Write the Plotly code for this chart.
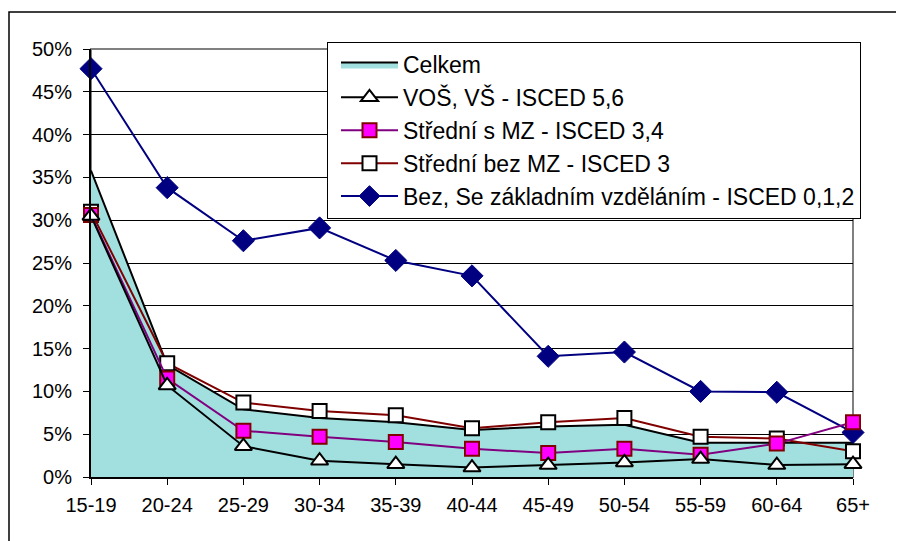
import plotly.graph_objects as go

categories = ["15-19", "20-24", "25-29", "30-34", "35-39", "40-44",
              "45-49", "50-54", "55-59", "60-64", "65+"]

celkem = [35.8, 13.1, 7.9, 6.9, 6.4, 5.5, 5.9, 6.1, 4.0, 4.0, 4.0]
vos_vs = [30.5, 10.7, 3.6, 1.9, 1.5, 1.1, 1.4, 1.7, 2.1, 1.4, 1.5]
stredni_s_mz = [30.6, 11.5, 5.4, 4.7, 4.1, 3.3, 2.8, 3.3, 2.6, 3.9, 6.4]
stredni_bez_mz = [31.0, 13.3, 8.7, 7.7, 7.2, 5.7, 6.4, 6.9, 4.7, 4.5, 3.0]
zakladni = [47.7, 33.8, 27.6, 29.1, 25.3, 23.5, 14.1, 14.6, 10.0, 9.9, 5.2]

y_ticks = [0, 5, 10, 15, 20, 25, 30, 35, 40, 45, 50]
y_tick_labels = [f"{v}%" for v in y_ticks]

FONT = "Liberation Sans, Arial, sans-serif"

fig = go.Figure()

fig.add_trace(go.Scatter(
    x=categories, y=celkem, name="Celkem", mode="lines",
    fill="tozeroy", fillcolor="#A2E0E0",
    line=dict(color="black", width=2), legendrank=1, cliponaxis=False))

fig.add_trace(go.Scatter(
    x=categories, y=zakladni, name="Bez, Se základním vzděláním - ISCED 0,1,2",
    mode="lines+markers", line=dict(color="#000080", width=2),
    marker=dict(symbol="diamond", size=17, color="#000080",
                line=dict(color="#000080", width=1)),
    legendrank=5, cliponaxis=False))

fig.add_trace(go.Scatter(
    x=categories, y=stredni_bez_mz, name="Střední bez MZ - ISCED 3",
    mode="lines+markers", line=dict(color="#800000", width=2),
    marker=dict(symbol="square", size=14, color="white",
                line=dict(color="black", width=2)),
    legendrank=4, cliponaxis=False))

fig.add_trace(go.Scatter(
    x=categories, y=stredni_s_mz, name="Střední s MZ - ISCED 3,4",
    mode="lines+markers", line=dict(color="#800080", width=2),
    marker=dict(symbol="square", size=14, color="#FF00FF",
                line=dict(color="#800000", width=2)),
    legendrank=3, cliponaxis=False))

fig.add_trace(go.Scatter(
    x=categories, y=vos_vs, name="VOŠ, VŠ - ISCED 5,6",
    mode="lines+markers", line=dict(color="black", width=2),
    marker=dict(symbol="triangle-up", size=15, color="white",
                line=dict(color="black", width=2)),
    legendrank=2, cliponaxis=False))

# page body has an 8px offset; margins compensate
OFF = 8
ML, MT = 91 - OFF, 49 - OFF
MR = 904 - 853 + OFF
MB = 541 - 477 + OFF
PW = 904 - ML - MR
PH = 541 - MT - MB

# plot-area gray border
fig.add_shape(type="rect", xref="paper", yref="paper", x0=0, x1=1, y0=0, y1=1,
              line=dict(color="#808080", width=2), layer="between")
# chart-area outer border
fig.add_shape(type="rect", xref="paper", yref="paper",
              x0=(9 - OFF - ML) / PW, x1=1.2, y0=-0.3, y1=(PH + MT - (12 - OFF)) / PH,
              line=dict(color="black", width=1.5), layer="below")

fig.update_layout(
    width=904, height=541,
    margin=dict(l=ML, r=MR, t=MT, b=MB, autoexpand=False),
    paper_bgcolor="white", plot_bgcolor="white",
    font=dict(family=FONT, size=20, color="black"),
    showlegend=True,
    legend=dict(
        x=(327 - OFF - ML) / PW, y=(PH + MT - (42 - OFF)) / PH,
        xanchor="left", yanchor="top",
        bgcolor="white", bordercolor="black", borderwidth=1,
        font=dict(family=FONT, size=23, color="black"),
        itemwidth=57, tracegroupgap=0, indentation=8,
    ),
    xaxis=dict(
        type="category", categoryorder="array", categoryarray=categories,
        range=[0, 10], showgrid=False, zeroline=False,
        showline=True, linecolor="black", linewidth=2,
        ticks="outside", ticklen=6, tickcolor="black", tickwidth=1,
        tickfont=dict(family=FONT, size=20, color="black"),
        ticklabelstandoff=3,
    ),
    yaxis=dict(
        range=[0, 50], tickmode="array", tickvals=y_ticks, ticktext=y_tick_labels,
        showgrid=True, gridcolor="black", gridwidth=1, zeroline=False,
        showline=True, linecolor="black", linewidth=2,
        ticks="outside", ticklen=6, tickcolor="black", tickwidth=1,
        tickfont=dict(family=FONT, size=20, color="black"),
        ticklabelstandoff=7,
    ),
)

fig.write_html("out.html")
